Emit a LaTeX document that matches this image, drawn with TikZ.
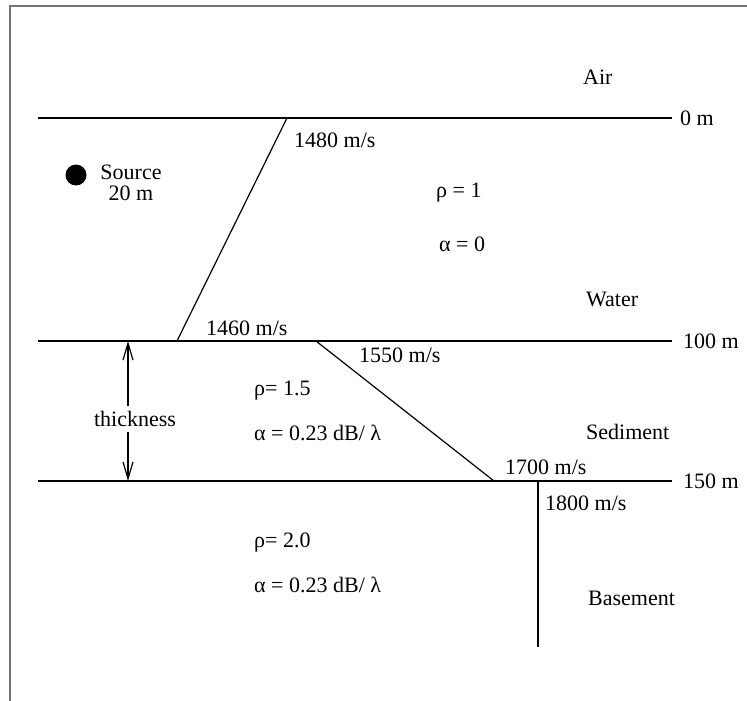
\documentclass[tikz,border=0pt]{standalone}
\usepackage{fontspec}
\setmainfont{Liberation Serif}
\usepackage{tikz}
\usetikzlibrary{arrows.meta, positioning}

\begin{document}
\begin{tikzpicture}[
    x=1pt, y=-1pt,
    label/.style={inner sep=0pt, font=\fontsize{22}{21}\selectfont},
    boundary/.style={line width=1.6pt},
    profile/.style={line width=1.2pt},
    dimarrow/.style={-{Straight Barb[length=17pt, width=10pt, line width=1.2pt]}, line width=1.2pt},
    frameline/.style={line width=1.8pt, draw=black!55}
]
\useasboundingbox (0,0) rectangle (747,701);

% Rahmen
\draw[frameline] (10,701) -- (10,6) -- (747,6);

% Grenzflaechen
\coordinate (surf-l) at (38,118);
\coordinate (surf-r) at (672,118);
\coordinate (bot-l) at (38,341);
\coordinate (bot-r) at (672,341);
\coordinate (base-l) at (38,481);
\coordinate (base-r) at (672,481);

\draw[boundary] (surf-l) -- (surf-r);
\draw[boundary] (bot-l) -- (bot-r);
\draw[boundary] (base-l) -- (base-r);

\node[label, anchor=west] (depth0) at ([xshift=8pt]surf-r) {0 m};
\node[label, anchor=west] (depth100) at ([xshift=11pt]bot-r) {100 m};
\node[label, anchor=west] (depth150) at ([xshift=11pt]base-r) {150 m};

% Schallgeschwindigkeitsprofile
\coordinate (water-top) at (287,118);
\coordinate (water-bot) at (177,341);
\coordinate (sed-top) at (316,341);
\coordinate (sed-bot) at (494,481);
\coordinate (bsm-top) at (538,481);
\coordinate (bsm-bot) at (538,647);

\draw[profile] (water-top) -- (water-bot);
\draw[profile] (sed-top) -- (sed-bot);
\draw[profile] (bsm-top) -- (bsm-bot);

\node[label, anchor=west] (c1480) at (294,140) {1480 m/s};
\node[label, anchor=west] (c1460) at (206,328) {1460 m/s};
\node[label, anchor=west] (c1550) at (359,355) {1550 m/s};
\node[label, anchor=west] (c1700) at (505,467) {1700 m/s};
\node[label, anchor=west] (c1800) at (545,503) {1800 m/s};

% Quelle
\node[circle, fill=black, inner sep=0pt, minimum size=21pt] (src) at (76,175) {};
\node[label, align=center, anchor=north] (src-text) at (131,165) {Source\\20 m};

% Wasser
\node[label, anchor=west] (air) at (583,77) {Air};
\node[label, anchor=west] (rho-w) at (436,193) {ρ = 1};
\node[label, anchor=west] (alpha-w) at (439,244) {α = 0};
\node[label, anchor=west] (water) at (586,299) {Water};

% Sediment
\node[label, inner sep=5pt] (thick) at (135,419) {thickness};
\coordinate (thick-top) at (128,341);
\coordinate (thick-bot) at (128,481);
\draw[dimarrow] (thick-top |- thick.north) -- (thick-top);
\draw[dimarrow] (thick-bot |- thick.south) -- (thick-bot);

\node[label, anchor=west] (rho-s) at (254,391) {ρ= 1.5};
\node[label, anchor=west] (alpha-s) at (254,433) {α = 0.23 dB/ λ};
\node[label, anchor=west] (sediment) at (586,432) {Sediment};

% Untergrund
\node[label, anchor=west] (rho-b) at (254,543) {ρ= 2.0};
\node[label, anchor=west] (alpha-b) at (254,585) {α = 0.23 dB/ λ};
\node[label, anchor=west] (basement) at (588,598) {Basement};

\end{tikzpicture}
\end{document}
